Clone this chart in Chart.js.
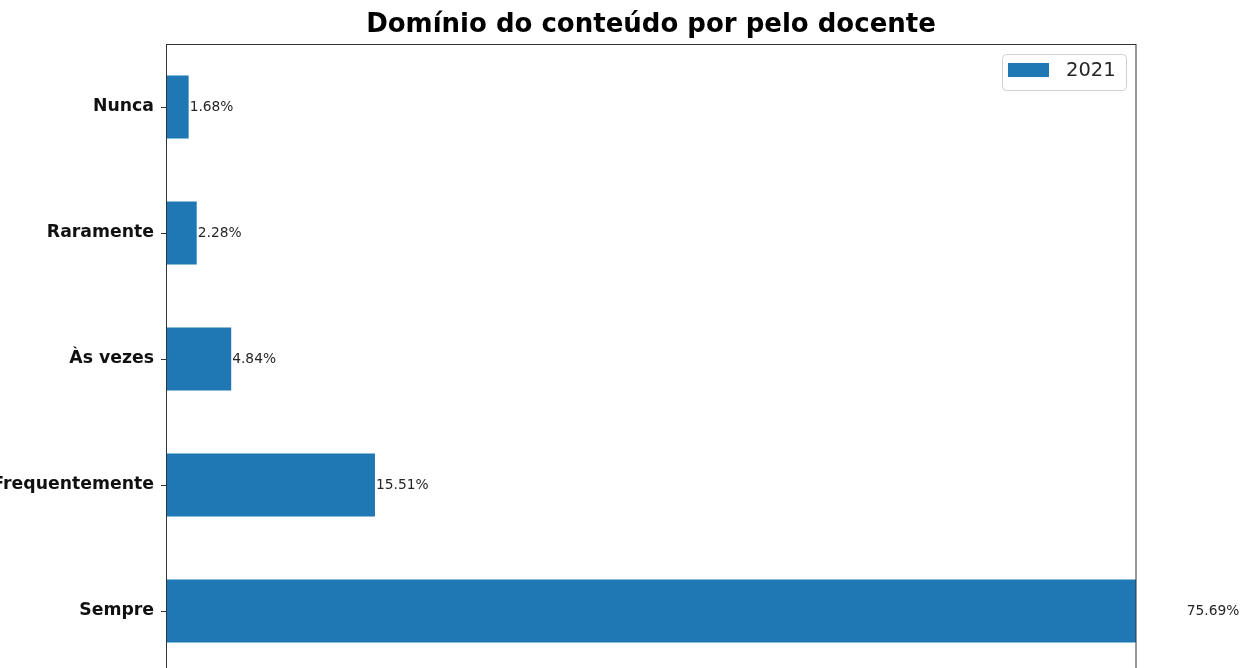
<!DOCTYPE html>
<html>
<head>
<meta charset="utf-8">
<script src="https://cdn.jsdelivr.net/npm/chart.js@4.4.1/dist/chart.umd.min.js"></script>
<style>
  html, body { margin: 0; padding: 0; background: #fff; overflow: hidden; }
  #wrap { position: relative; width: 1242px; height: 700px; }
  canvas { display: block; }
</style>
</head>
<body>
<div id="wrap"><canvas id="chart" width="1242" height="700"></canvas></div>
<script>
const chartTitle = 'Domínio do conteúdo por pelo docente';
const categories = ['Nunca', 'Raramente', 'Às vezes', 'Frequentemente', 'Sempre'];
const seriesLabel = '2021';
const values = [1.68, 2.28, 4.84, 15.51, 75.69];
const xMax = 72.0; // the axis stops short of the largest bar, which gets cut

const barColor = '#1f77b4';
const fontFamily = '"DejaVu Sans", sans-serif';

// Value labels at the end of each bar (not clipped to the plot)
const valueLabels = {
  id: 'valueLabels',
  afterDatasetsDraw(chart) {
    const { ctx } = chart;
    const meta = chart.getDatasetMeta(0);
    ctx.save();
    ctx.font = '13.8px ' + fontFamily;
    ctx.fillStyle = '#262626';
    ctx.textBaseline = 'middle';
    ctx.textAlign = 'left';
    meta.data.forEach((bar, i) => {
      ctx.fillText(values[i].toFixed(2) + '%', bar.x + 1, bar.y);
    });
    ctx.restore();
  }
};

// Axes frame plus the legend box inside the plot
const frameAndLegend = {
  id: 'frameAndLegend',
  afterDraw(chart) {
    const { ctx, chartArea } = chart;
    ctx.save();
    ctx.strokeStyle = '#333';
    ctx.lineWidth = 1;
    ctx.strokeRect(chartArea.left + 0.5, chartArea.top + 0.5,
      chartArea.right - chartArea.left - 0.5, chartArea.bottom - chartArea.top);

    const bx = chartArea.right - 134, by = chartArea.top + 10, bw = 124, bh = 36;
    ctx.beginPath();
    ctx.roundRect(bx + 0.5, by + 0.5, bw, bh, 4);
    ctx.fillStyle = 'rgba(255,255,255,0.8)';
    ctx.fill();
    ctx.strokeStyle = '#d0d0d0';
    ctx.stroke();
    ctx.fillStyle = barColor;
    ctx.fillRect(bx + 6, by + 9, 41, 14);
    ctx.fillStyle = '#262626';
    ctx.font = '19.5px ' + fontFamily;
    ctx.textBaseline = 'middle';
    ctx.fillText(seriesLabel, bx + 64, by + 17);
    ctx.restore();
  }
};

// Title centred over the plot area
const centredTitle = {
  id: 'centredTitle',
  afterDraw(chart) {
    const { ctx, chartArea } = chart;
    ctx.save();
    ctx.font = 'bold 26px ' + fontFamily;
    ctx.fillStyle = '#000';
    ctx.textAlign = 'center';
    ctx.textBaseline = 'middle';
    ctx.fillText(chartTitle, (chartArea.left + chartArea.right) / 2, 25);
    ctx.restore();
  }
};

new Chart(document.getElementById('chart'), {
  type: 'bar',
  data: {
    labels: categories,
    datasets: [{
      label: seriesLabel,
      data: values,
      backgroundColor: barColor,
      borderWidth: 0,
      categoryPercentage: 1,
      barPercentage: 0.5
    }]
  },
  options: {
    indexAxis: 'y',
    responsive: false,
    animation: false,
    devicePixelRatio: 1,
    layout: { padding: { left: 0, right: 106, top: 44, bottom: 26 } },
    plugins: {
      legend: { display: false },
      tooltip: { enabled: false },
      title: { display: false }
    },
    scales: {
      x: {
        display: false,
        min: 0,
        max: xMax
      },
      y: {
        afterFit: (scale) => { scale.width = 166; },
        grid: { offset: false, drawOnChartArea: false, drawTicks: true, tickLength: 5, color: '#333' },
        border: { display: false },
        ticks: {
          padding: 7,
          color: '#111',
          font: { family: fontFamily, size: 17.3, weight: 'bold' }
        }
      }
    }
  },
  plugins: [valueLabels, frameAndLegend, centredTitle]
});
</script>
</body>
</html>
